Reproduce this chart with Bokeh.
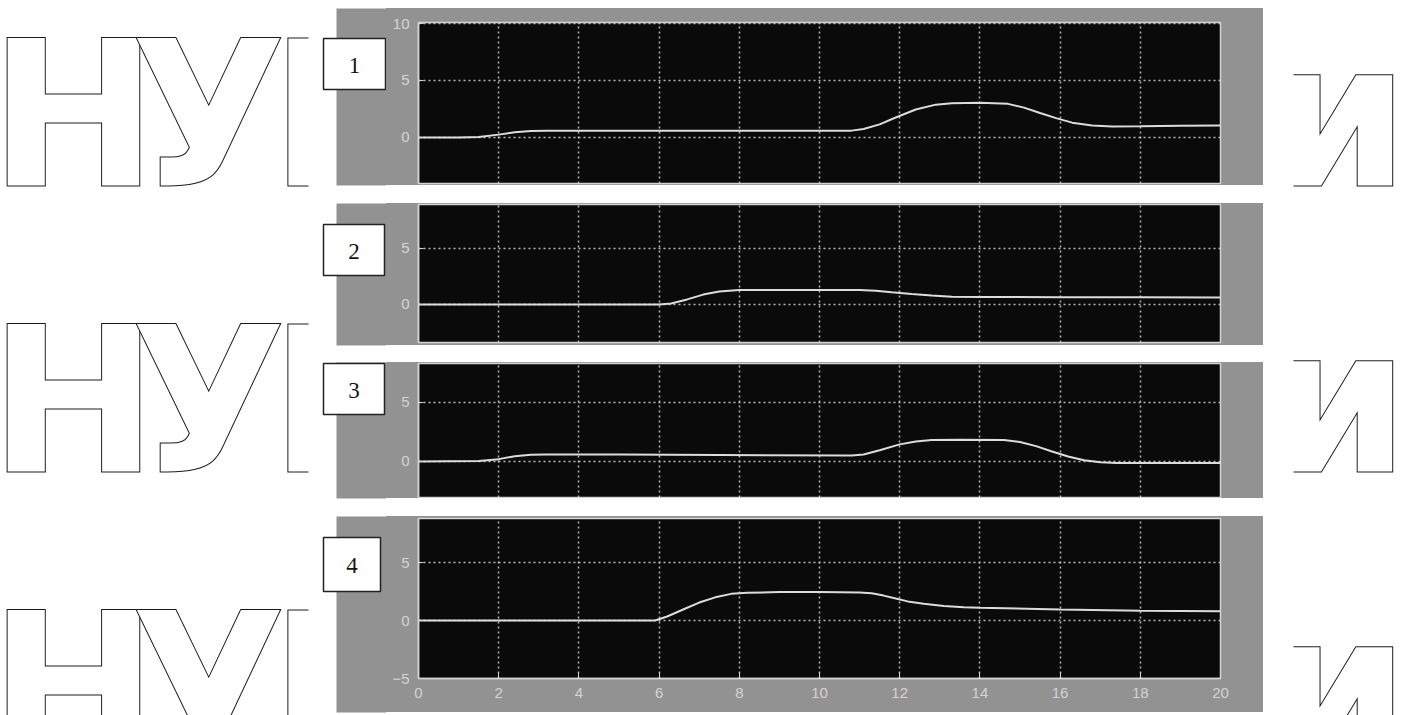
from bokeh.plotting import figure
from bokeh.layouts import row, column, Spacer
from bokeh.models import Range1d, FixedTicker, Grid, LinearAxis
from bokeh.core.properties import value
from bokeh.embed import file_html
from bokeh.resources import INLINE

# ---------------- data ----------------
x_ticks = [0, 2, 4, 6, 8, 10, 12, 14, 16, 18, 20]
panel_names = ["1", "2", "3", "4"]

x1 = [0, 1.0, 1.5, 2.0, 2.4, 2.8, 3.2, 5.0, 8.0, 10.8, 11.1, 11.5, 11.9, 12.4, 12.9, 13.3, 14.0, 14.7, 15.1, 15.5, 15.9, 16.3, 16.8, 17.3, 18.0, 19.0, 20.0]
y1 = [0, 0.0, 0.05, 0.25, 0.45, 0.57, 0.6, 0.6, 0.6, 0.6, 0.75, 1.15, 1.75, 2.45, 2.88, 3.0, 3.05, 2.95, 2.62, 2.15, 1.7, 1.3, 1.05, 0.96, 0.98, 1.02, 1.05]

x2 = [0, 6.0, 6.3, 6.7, 7.1, 7.5, 8.0, 9.0, 10.0, 11.0, 11.4, 11.8, 12.3, 12.8, 13.3, 14.0, 16.0, 18.0, 20.0]
y2 = [0, 0.0, 0.08, 0.45, 0.88, 1.15, 1.3, 1.3, 1.3, 1.28, 1.22, 1.08, 0.93, 0.79, 0.69, 0.66, 0.65, 0.65, 0.62]

x3 = [0, 1.5, 2.0, 2.4, 2.8, 3.2, 5.0, 7.5, 10.8, 11.1, 11.5, 12.0, 12.4, 12.8, 13.5, 14.6, 15.0, 15.4, 15.8, 16.2, 16.6, 17.0, 17.4, 20.0]
y3 = [0, 0.05, 0.2, 0.45, 0.57, 0.6, 0.6, 0.55, 0.5, 0.6, 0.95, 1.45, 1.7, 1.82, 1.85, 1.82, 1.65, 1.3, 0.85, 0.42, 0.1, -0.06, -0.12, -0.12]

x4 = [0, 5.9, 6.2, 6.6, 7.0, 7.4, 7.8, 8.2, 9.0, 10.0, 11.0, 11.3, 11.6, 11.9, 12.2, 12.6, 13.1, 13.6, 14.0, 16.0, 18.0, 20.0]
y4 = [0, 0.0, 0.35, 0.95, 1.55, 2.0, 2.3, 2.4, 2.45, 2.45, 2.42, 2.35, 2.15, 1.9, 1.65, 1.45, 1.25, 1.15, 1.1, 0.95, 0.85, 0.8]

series_x = [x1, x2, x3, x4]
series_y = [y1, y2, y3, y4]
y_tick_sets = [[0, 5, 10], [0, 5], [0, 5], [-5, 0, 5]]
y_limits = [(-4.04, 10.09), (-3.4, 8.93), (-3.05, 8.3), (-5.0, 8.8)]

watermark_left = ["Н", "У", "Б"]
watermark_right = ["и"]

# ---------------- layout / style ----------------
GREY = "#929292"
BLACK = "#0a0a0a"
LIGHT = "#d4d4d4"
LEFT_W = 386          # left strip: watermark, numbered boxes, left part of grey frames
FRAME_X0 = 336        # where the grey frames start
PANEL_W = 877
RIGHT_W = 147
gaps = [8, 18, 17, 18]
heights = [177, 142, 136, 196]
tops = [14, 1, 1, 2]
bottoms = [2, 3, 1, 34]
# numbered boxes: (left, right, top, bottom) in page pixels
boxes = [(323, 385, 38, 89), (323, 384, 224, 275), (323, 384, 363, 414), (323, 380, 537, 591)]


def panel(i):
    p = figure(width=PANEL_W, height=heights[i], x_range=Range1d(0, 20),
               y_range=Range1d(*y_limits[i]), output_backend="svg",
               toolbar_location=None, x_axis_location=None,
               min_border_left=32, min_border_right=43,
               min_border_top=tops[i], min_border_bottom=bottoms[i],
               background_fill_color=BLACK, border_fill_color=GREY,
               outline_line_color=LIGHT, outline_line_width=1.5,
               styles={"background-color": GREY})
    p.xgrid.visible = False
    p.yaxis.ticker = FixedTicker(ticks=y_tick_sets[i])
    p.yaxis.minor_tick_line_color = None
    p.yaxis.major_tick_in = 5
    p.yaxis.major_tick_out = 0
    p.yaxis.major_tick_line_color = LIGHT
    p.yaxis.axis_line_color = LIGHT
    p.yaxis.axis_line_width = 1.5
    p.yaxis.major_label_text_color = LIGHT
    p.yaxis.major_label_text_font = "Liberation Sans"
    p.yaxis.major_label_text_font_size = "15px"
    p.yaxis.major_label_standoff = 9
    p.ygrid.grid_line_color = LIGHT
    p.ygrid.grid_line_dash = "2 3"
    p.ygrid.grid_line_width = 1.5
    p.ygrid.grid_line_alpha = 0.85
    p.add_layout(Grid(dimension=0, ticker=FixedTicker(ticks=x_ticks[1:-1]),
                      grid_line_color=LIGHT, grid_line_dash="2 3",
                      grid_line_width=1.5, grid_line_alpha=0.85))
    if i == 3:
        ax = LinearAxis(ticker=FixedTicker(ticks=x_ticks))
        ax.minor_tick_line_color = None
        ax.major_tick_in = 6
        ax.major_tick_out = 0
        ax.major_tick_line_color = LIGHT
        ax.axis_line_color = LIGHT
        ax.axis_line_width = 1.5
        ax.major_label_text_color = LIGHT
        ax.major_label_text_font = "Liberation Sans"
        ax.major_label_text_font_size = "15px"
        ax.major_label_standoff = 9
        p.add_layout(ax, "below")
    p.line(series_x[i], series_y[i], line_color="#dcdcdc", line_width=2)
    return p


panels = [panel(i) for i in range(4)]


def blank(width):
    f = figure(width=width, height=715, x_range=Range1d(0, width),
               y_range=Range1d(715, 0), output_backend="svg",
               toolbar_location=None, x_axis_location=None, y_axis_location=None,
               min_border=0, outline_line_color=None,
               background_fill_color="white", border_fill_color="white")
    f.xgrid.visible = False
    f.ygrid.visible = False
    return f


# text baselines (compensated for the glyph's vertical placement)
baselines = [115, 401, 687]

left = blank(LEFT_W)
for b in baselines:
    left.text(x=[73, 208, 346], y=[b, b, b], text=watermark_left,
              text_align="center", text_baseline="alphabetic",
              text_font=value("DejaVu Sans"), text_font_style="bold",
              text_font_size="203px", text_color="white",
              text_outline_color="#1a1a1a")
left.quad(left=[308], right=[LEFT_W], top=[0], bottom=[715], fill_color="white", line_color=None)

# left parts of the grey frames of the four panels
tops_px, y = [], 0
for g, h in zip(gaps, heights):
    y += g
    tops_px.append(y)
    y += h
left.quad(left=[FRAME_X0] * 4, right=[LEFT_W + 2] * 4, top=tops_px,
          bottom=[t + h for t, h in zip(tops_px, heights)],
          fill_color=GREY, line_color=None)

# numbered boxes
left.quad(left=[b[0] for b in boxes], right=[b[1] for b in boxes],
          top=[b[2] for b in boxes], bottom=[b[3] for b in boxes],
          fill_color="white", line_color="#222222", line_width=1.5)
left.text(x=[(b[0] + b[1]) / 2 for b in boxes], y=[(b[2] + b[3]) / 2 + 1 for b in boxes],
          text=panel_names, text_align="center", text_baseline="middle",
          text_font=value("Liberation Serif"), text_font_size="23px",
          text_color="#151515")

right = blank(RIGHT_W)
for b in baselines:
    right.text(x=[75], y=[b], text=watermark_right, text_align="center",
               text_baseline="alphabetic", text_font=value("DejaVu Sans"),
               text_font_style="bold", text_font_size="203px",
               text_color="white", text_outline_color="#1a1a1a")
right.quad(left=[0], right=[30], top=[0], bottom=[715], fill_color="white", line_color=None)

col = column(Spacer(width=PANEL_W, height=gaps[0]), panels[0],
             Spacer(width=PANEL_W, height=gaps[1]), panels[1],
             Spacer(width=PANEL_W, height=gaps[2]), panels[2],
             Spacer(width=PANEL_W, height=gaps[3]), panels[3], spacing=0)
layout = row(left, col, right, spacing=0)

open("out.html", "w").write(file_html(layout, INLINE))
